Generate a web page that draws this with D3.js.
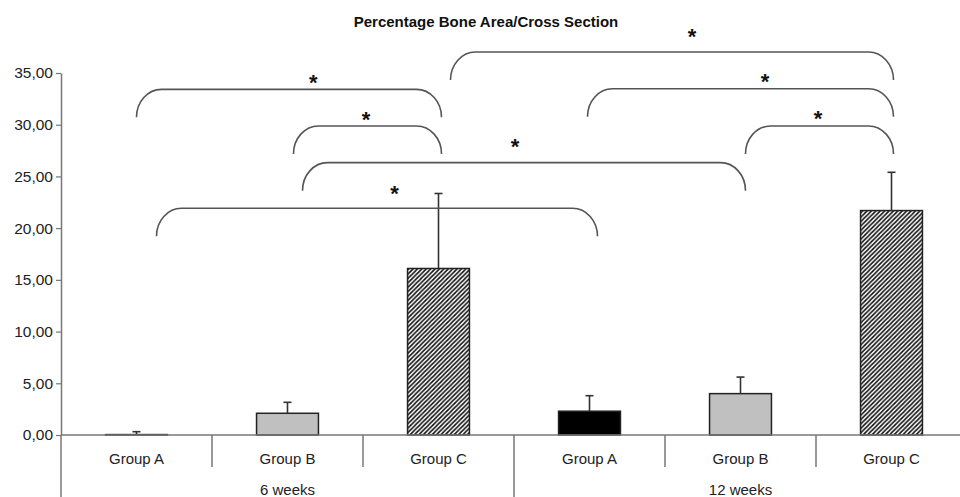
<!DOCTYPE html>
<html>
<head>
<meta charset="utf-8">
<script src="https://cdn.jsdelivr.net/npm/d3@7/dist/d3.min.js"></script>
<style>
  html, body { margin: 0; padding: 0; background: #fff; }
  svg { display: block; font-family: "Liberation Sans", Arial, sans-serif; }
</style>
</head>
<body>
<svg id="chart" width="960" height="497"></svg>
<script>
// ---- data ----
const periods = ["6 weeks", "12 weeks"];
const groups = ["Group A", "Group B", "Group C"];
// mean percentage bone area per period x group
const means6 = [0.04, 2.1, 16.1];
const means12 = [2.3, 4.0, 21.7];
// upper error (SD) per period x group
const sd6 = [0.28, 1.06, 7.25];
const sd12 = [1.5, 1.6, 3.7];
const yTicks = [0, 5, 10, 15, 20, 25, 30, 35];
const title = "Percentage Bone Area/Cross Section";
// significant comparisons: [from period, from group, to period, to group]
const comparisons = [
  ["6 weeks", "Group A", "6 weeks", "Group C"],
  ["6 weeks", "Group B", "6 weeks", "Group C"],
  ["6 weeks", "Group B", "12 weeks", "Group B"],
  ["6 weeks", "Group A", "12 weeks", "Group A"],
  ["6 weeks", "Group C", "12 weeks", "Group C"],
  ["12 weeks", "Group A", "12 weeks", "Group C"],
  ["12 weeks", "Group B", "12 weeks", "Group C"]
];
const sigMark = "*";

// ---- layout for the comparison brackets (axis units / pixel nudges) ----
const bracketTop = [33.42, 29.88, 26.33, 21.92, 37.03, 33.47, 29.88];
const bracketNudge = [[0, 3], [6, 3], [15, 5], [20, 8], [12, 2], [-2, 2], [5, 2]];
const starFrac = [0.58, 0.49, 0.48, 0.54, 0.545, 0.58, 0.49];
const starGap = [9.3, 9.3, 18.7, 17.6, 18, 9.4, 10];

// ---- build rows ----
const rows = [];
periods.forEach((p, pi) => {
  const m = pi === 0 ? means6 : means12;
  const s = pi === 0 ? sd6 : sd12;
  groups.forEach((g, gi) => rows.push({ key: p + "|" + g, period: p, group: g, value: m[gi], sd: s[gi] }));
});

const svg = d3.select("#chart");
const plotLeft = 61, plotRight = 967, plotTop = 73, base = 435;

const x = d3.scaleBand().domain(rows.map(d => d.key)).range([plotLeft, plotRight]).paddingInner(0).paddingOuter(0);
const y = d3.scaleLinear().domain([0, 35]).range([base, plotTop]);
const barW = x.bandwidth() * 0.41;

// hatch pattern for Group C
const defs = svg.append("defs");
const pat = defs.append("pattern").attr("id", "hatch").attr("patternUnits", "userSpaceOnUse")
  .attr("width", 4.4).attr("height", 4.4);
pat.append("rect").attr("width", 4.4).attr("height", 4.4).attr("fill", "#fff");
pat.append("path").attr("d", "M-1.1,1.1 L1.1,-1.1 M0,4.4 L4.4,0 M3.3,5.5 L5.5,3.3")
  .attr("stroke", "#111").attr("stroke-width", 1.6);

const fillFor = g => g === "Group A" ? "#000" : g === "Group B" ? "#c0c0c0" : "url(#hatch)";

// title
svg.append("text").attr("x", 486).attr("y", 26.5).attr("text-anchor", "middle")
  .attr("font-size", 15).attr("font-weight", "bold").attr("fill", "#111").text(title);

// y axis
const yAxis = svg.append("g").attr("transform", `translate(${plotLeft},0)`)
  .call(d3.axisLeft(y).tickValues(yTicks).tickSize(5).tickSizeOuter(0).tickPadding(3)
    .tickFormat(d => d3.format(".2f")(d).replace(".", ",")));
yAxis.select(".domain").attr("stroke", "#777").attr("stroke-width", 1.5);
yAxis.selectAll(".tick line").attr("stroke", "#777").attr("stroke-width", 1.2);
yAxis.selectAll(".tick text").attr("font-size", 15.5).attr("fill", "#222")
  .attr("font-family", "'Liberation Sans', Arial, sans-serif");

// bars
svg.append("g").selectAll("rect").data(rows).join("rect")
  .attr("x", d => x(d.key) + (x.bandwidth() - barW) / 2)
  .attr("y", d => y(d.value))
  .attr("width", barW)
  .attr("height", d => base - y(d.value))
  .attr("fill", d => fillFor(d.group))
  .attr("stroke", "#222").attr("stroke-width", 1.5);

// error bars (upper only)
const eg = svg.append("g").attr("stroke", "#333").attr("stroke-width", 1.6);
rows.forEach(d => {
  const cx = x(d.key) + x.bandwidth() / 2;
  eg.append("line").attr("x1", cx).attr("x2", cx).attr("y1", y(d.value)).attr("y2", y(d.value + d.sd));
  eg.append("line").attr("x1", cx - 4).attr("x2", cx + 4).attr("y1", y(d.value + d.sd)).attr("y2", y(d.value + d.sd));
});

// category axis: baseline, dividers, labels
const cat = svg.append("g").attr("stroke", "#777").attr("stroke-width", 1.5);
cat.append("line").attr("x1", plotLeft).attr("x2", plotRight).attr("y1", base).attr("y2", base);
const edges = rows.map(d => x(d.key)).concat([plotRight]);
edges.forEach((ex, i) => {
  const long = i % 3 === 0;
  cat.append("line").attr("x1", ex).attr("x2", ex).attr("y1", base).attr("y2", long ? 497 : 467);
});
svg.append("g").selectAll("text").data(rows).join("text")
  .attr("x", d => x(d.key) + x.bandwidth() / 2).attr("y", 463.5)
  .attr("text-anchor", "middle").attr("font-size", 15).attr("fill", "#222").text(d => d.group);
svg.append("g").selectAll("text").data(periods).join("text")
  .attr("x", p => (x(p + "|" + groups[0]) + x(p + "|" + groups[2]) + x.bandwidth()) / 2).attr("y", 495)
  .attr("text-anchor", "middle").attr("font-size", 15).attr("fill", "#222").text(p => p);

// significance brackets
const depth = 28, rx = 25;
const bg = svg.append("g");
comparisons.forEach((c, i) => {
  const x0 = x(c[0] + "|" + c[1]) + x.bandwidth() / 2 + bracketNudge[i][0];
  const x1 = x(c[2] + "|" + c[3]) + x.bandwidth() / 2 + bracketNudge[i][1];
  const yt = y(bracketTop[i]);
  const yb = yt + depth;
  const path = `M${x0},${yb} A${rx},${depth} 0 0 1 ${x0 + rx},${yt} L${x1 - rx},${yt} A${rx},${depth} 0 0 1 ${x1},${yb}`;
  bg.append("path").attr("d", path).attr("fill", "none").attr("stroke", "#555").attr("stroke-width", 1.6);
  const sx = x0 + (x1 - x0) * starFrac[i];
  const sy = yt - starGap[i];
  bg.append("text").attr("x", sx).attr("y", sy + 10).attr("text-anchor", "middle")
    .attr("font-size", 22).attr("font-weight", "bold").attr("fill", "#111").text(sigMark);
});
</script>
</body>
</html>
